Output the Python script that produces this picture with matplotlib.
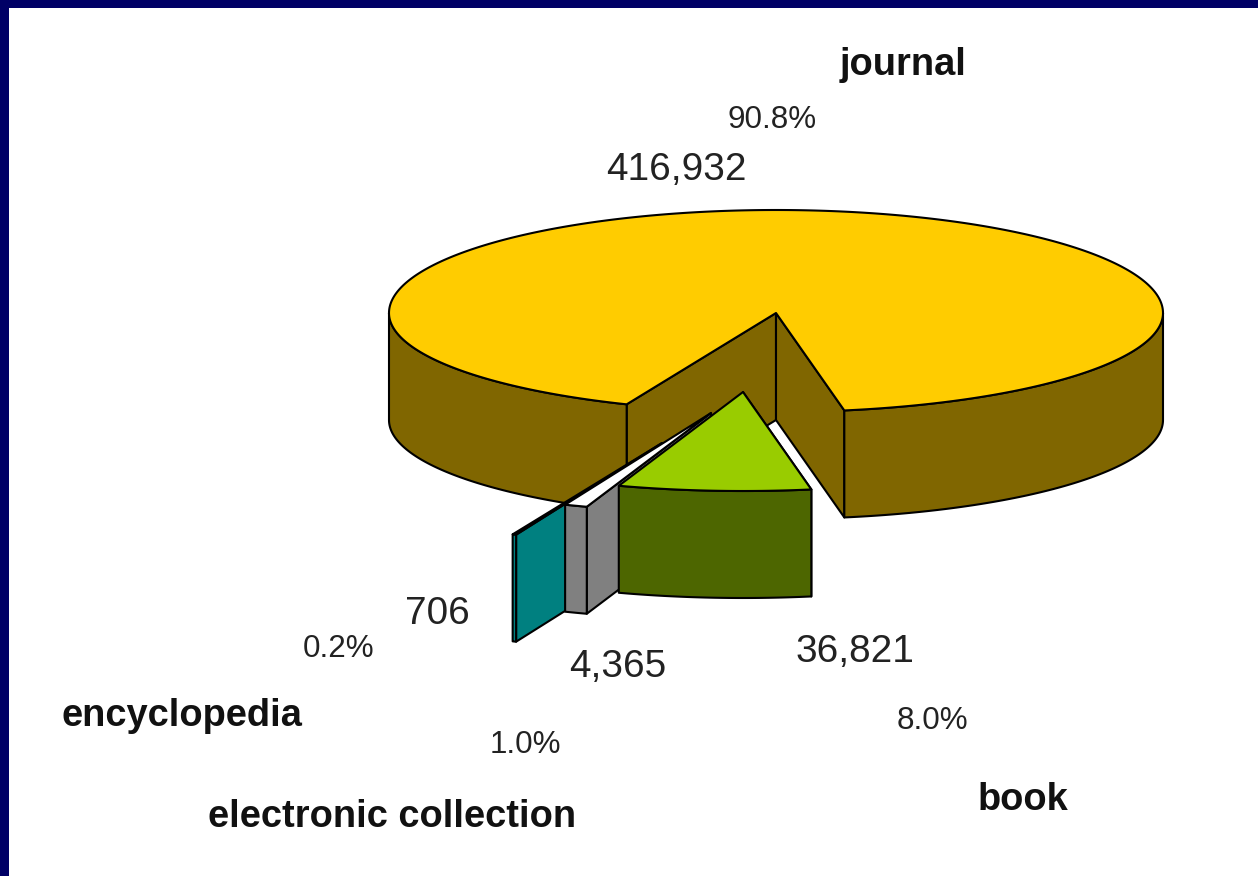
import numpy as np
import matplotlib
matplotlib.use("Agg")
import matplotlib.pyplot as plt
from matplotlib.patches import Polygon, Rectangle

categories = ["journal", "book", "electronic collection", "encyclopedia"]
counts = [416932, 36821, 4365, 706]
percents = [90.8, 8.0, 1.0, 0.2]

top_colors = ["#FFCC00", "#99CC00", "#FFFFFF", "#00FFFF"]
side_colors = ["#806600", "#4D6600", "#808080", "#008080"]

plt.rcParams["font.family"] = ["Liberation Sans", "DejaVu Sans"]

W, H = 1258, 876
fig = plt.figure(figsize=(W / 100, H / 100), dpi=100, facecolor="white")
ax = fig.add_axes([0, 0, 1, 1])
ax.set_xlim(0, W)
ax.set_ylim(H, 0)
ax.axis("off")

# projection of the pie
CX, CY = 776, 313
RX, RY_BACK, RY_FRONT = 387, 103, 99
DEPTH = 107
START = -157.3
LW = 1.5
offsets = [(0, 0), (-33, 79), (-65, 100), (-114, 130)]

sweep = 360 * np.array(counts, dtype=float) / np.sum(counts)
edges = START + np.concatenate([[0], np.cumsum(sweep)])


def rim(apex, a0, a1, n=160):
    phi = np.radians(np.linspace(a0, a1, n))
    c = np.cos(phi)
    ry = np.where(c > 0, RY_BACK, RY_FRONT)
    return np.column_stack([apex[0] + RX * np.sin(phi), apex[1] - ry * c])


def poly(pts, face, z):
    ax.add_patch(Polygon(pts, closed=True, facecolor=face, edgecolor="black",
                         linewidth=LW, joinstyle="round", zorder=z))


def drop(pts):
    return pts + np.array([0, DEPTH])


def wall(top_pts, face, z):
    poly(np.vstack([top_pts, drop(top_pts)[::-1]]), face, z)


z = 2
# journal
apex = np.array([CX, CY], float)
a0, a1 = edges[0], edges[1]
for ang in (a0, a1):
    wall(np.vstack([apex, rim(apex, ang, ang, 1)]), side_colors[0], z)
    z += 1
wall(rim(apex, 90, a1), side_colors[0], z)
z += 1
wall(rim(apex, a0, -90), side_colors[0], z)
z += 1
poly(np.vstack([apex, rim(apex, a0, a1, 500)]), top_colors[0], z)
z += 1

# exploded slices, back to front
for i in (3, 2, 1):
    apex = np.array([CX + offsets[i][0], CY + offsets[i][1]], float)
    a0, a1 = edges[i], edges[i + 1]
    # cut face turned to the viewer
    wall(np.vstack([apex, rim(apex, a0, a0, 1)]), side_colors[i], z)
    z += 1
    wall(rim(apex, a0, a1, 60), side_colors[i], z)
    z += 1
    poly(np.vstack([apex, rim(apex, a0, a1, 60)]), top_colors[i], z)
    z += 1

# window frame
NAVY = "#000066"
ax.add_patch(Rectangle((0, 0), 9, H, facecolor=NAVY, edgecolor="none", zorder=50))
ax.add_patch(Rectangle((0, 0), W, 8, facecolor=NAVY, edgecolor="none", zorder=50))

# labels: name, percentage, count
name_pos = [(903, 75), (1023, 810), (392, 827), (182, 726)]
pct_pos = [(772, 128), (932, 729), (525, 753), (339, 657)]
count_pos = [(676, 180), (855, 662), (618, 677), (437, 624)]
for i, name in enumerate(categories):
    ax.text(*name_pos[i], name, fontsize=27.4, fontweight="bold", color="#111111",
            ha="center", va="baseline", zorder=60)
    ax.text(*pct_pos[i], f"{percents[i]:.1f}%", fontsize=22.6, color="#222222",
            ha="center", va="baseline", zorder=60)
    ax.text(*count_pos[i], f"{counts[i]:,}", fontsize=27.9, color="#222222",
            ha="center", va="baseline", zorder=60)

fig.savefig("out.png", dpi=100, facecolor="white")
